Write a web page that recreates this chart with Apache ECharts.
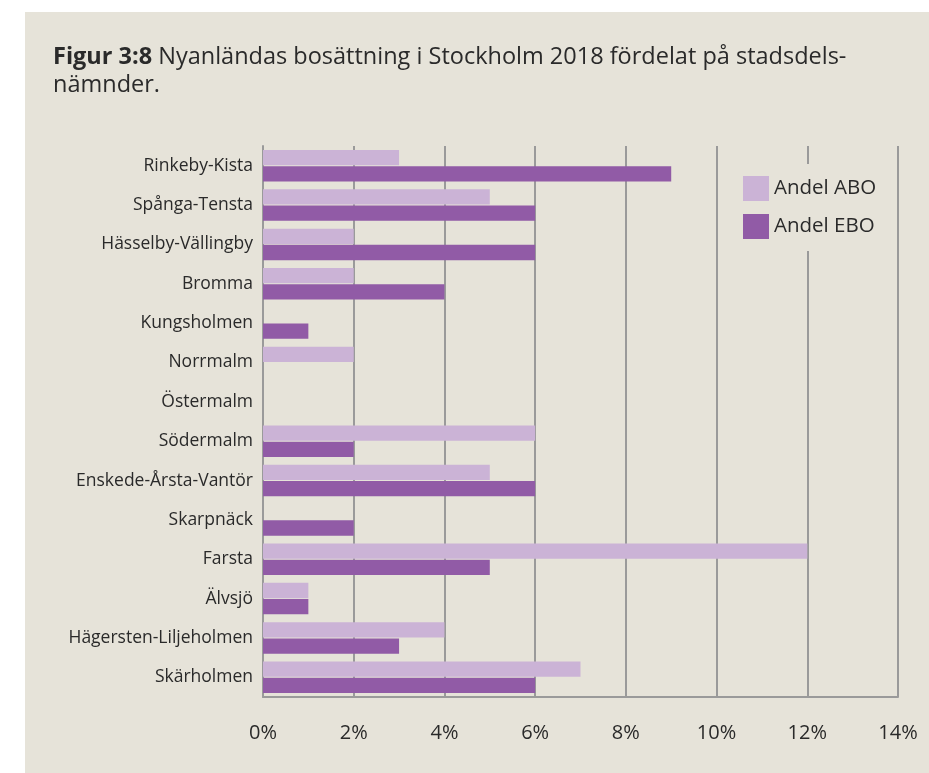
<!DOCTYPE html>
<html>
<head>
<meta charset="utf-8">
<script src="https://cdn.jsdelivr.net/npm/echarts@6/dist/echarts.min.js"></script>
<style>
  html, body { margin: 0; padding: 0; background: #ffffff; }
  #main { width: 929px; height: 773px; }
</style>
</head>
<body>
<div id="main"></div>
<script>
// stadsdelsnämnder, uppifrån och ned
const categories = [
  'Rinkeby-Kista', 'Spånga-Tensta', 'Hässelby-Vällingby', 'Bromma',
  'Kungsholmen', 'Norrmalm', 'Östermalm', 'Södermalm',
  'Enskede-Årsta-Vantör', 'Skarpnäck', 'Farsta', 'Älvsjö',
  'Hägersten-Liljeholmen', 'Skärholmen'
]
const andelABO = [3, 5, 2, 2, 0, 2, 0, 6, 5, 0, 12, 1, 4, 7]
const andelEBO = [9, 6, 6, 4, 1, 0, 0, 2, 6, 2, 5, 1, 3, 6]
const seriesNames = ['Andel ABO', 'Andel EBO']

const bg = '#e6e3d9'
const font = 'Open Sans'

let myChart = echarts.init(document.getElementById('main'))
myChart.setOption({
  backgroundColor: '#ffffff',
  graphic: [
    // beige ruta
    { type: 'rect', left: 25, top: 12, shape: { width: 904, height: 761 }, style: { fill: bg }, z: -10 }
  ],
  title: {
    text: '{b|Figur 3:8} Nyanländas bosättning i Stockholm 2018 fördelat på stadsdels-\nnämnder.',
    left: 48,
    top: 38,
    textStyle: {
      fontFamily: font,
      fontSize: 23.5,
      fontWeight: 'normal',
      color: '#2a2a2a',
      lineHeight: 28,
      rich: {
        b: { fontFamily: font, fontSize: 23.5, fontWeight: 'bold', color: '#2a2a2a', lineHeight: 28 }
      }
    }
  },
  legend: {
    data: seriesNames,
    orient: 'vertical',
    left: 731,
    top: 164,
    padding: [12, 14, 12, 12],
    backgroundColor: bg,
    itemWidth: 26,
    itemHeight: 25,
    itemGap: 13,
    icon: 'rect',
    textStyle: { fontFamily: font, fontSize: 20.5, color: '#2a2a2a' },
    z: 10
  },
  grid: {
    left: 263,
    right: 31,
    top: 146,
    bottom: 76,
    containLabel: false
  },
  xAxis: {
    type: 'value',
    min: 0,
    max: 14,
    interval: 2,
    axisLine: { show: true, lineStyle: { color: '#9a9a9a', width: 2 } },
    axisTick: { show: false },
    splitLine: { show: true, lineStyle: { color: '#9a9a9a', width: 2 } },
    axisLabel: {
      formatter: '{value}%',
      margin: 26,
      fontFamily: font,
      fontSize: 20,
      color: '#2a2a2a'
    }
  },
  yAxis: {
    type: 'category',
    data: categories,
    inverse: true,
    axisLine: { show: true, lineStyle: { color: '#9a9a9a', width: 2 } },
    axisTick: { show: false },
    axisLabel: {
      margin: 10,
      fontFamily: font,
      fontSize: 17.5,
      color: '#2a2a2a'
    }
  },
  series: [
    {
      name: seriesNames[0],
      type: 'bar',
      data: andelABO,
      itemStyle: { color: '#cbb3d6' },
      barGap: '6%',
      barCategoryGap: '20%'
    },
    {
      name: seriesNames[1],
      type: 'bar',
      data: andelEBO,
      itemStyle: { color: '#915ba6' },
      barGap: '6%',
      barCategoryGap: '20%'
    }
  ]
})
</script>
</body>
</html>
